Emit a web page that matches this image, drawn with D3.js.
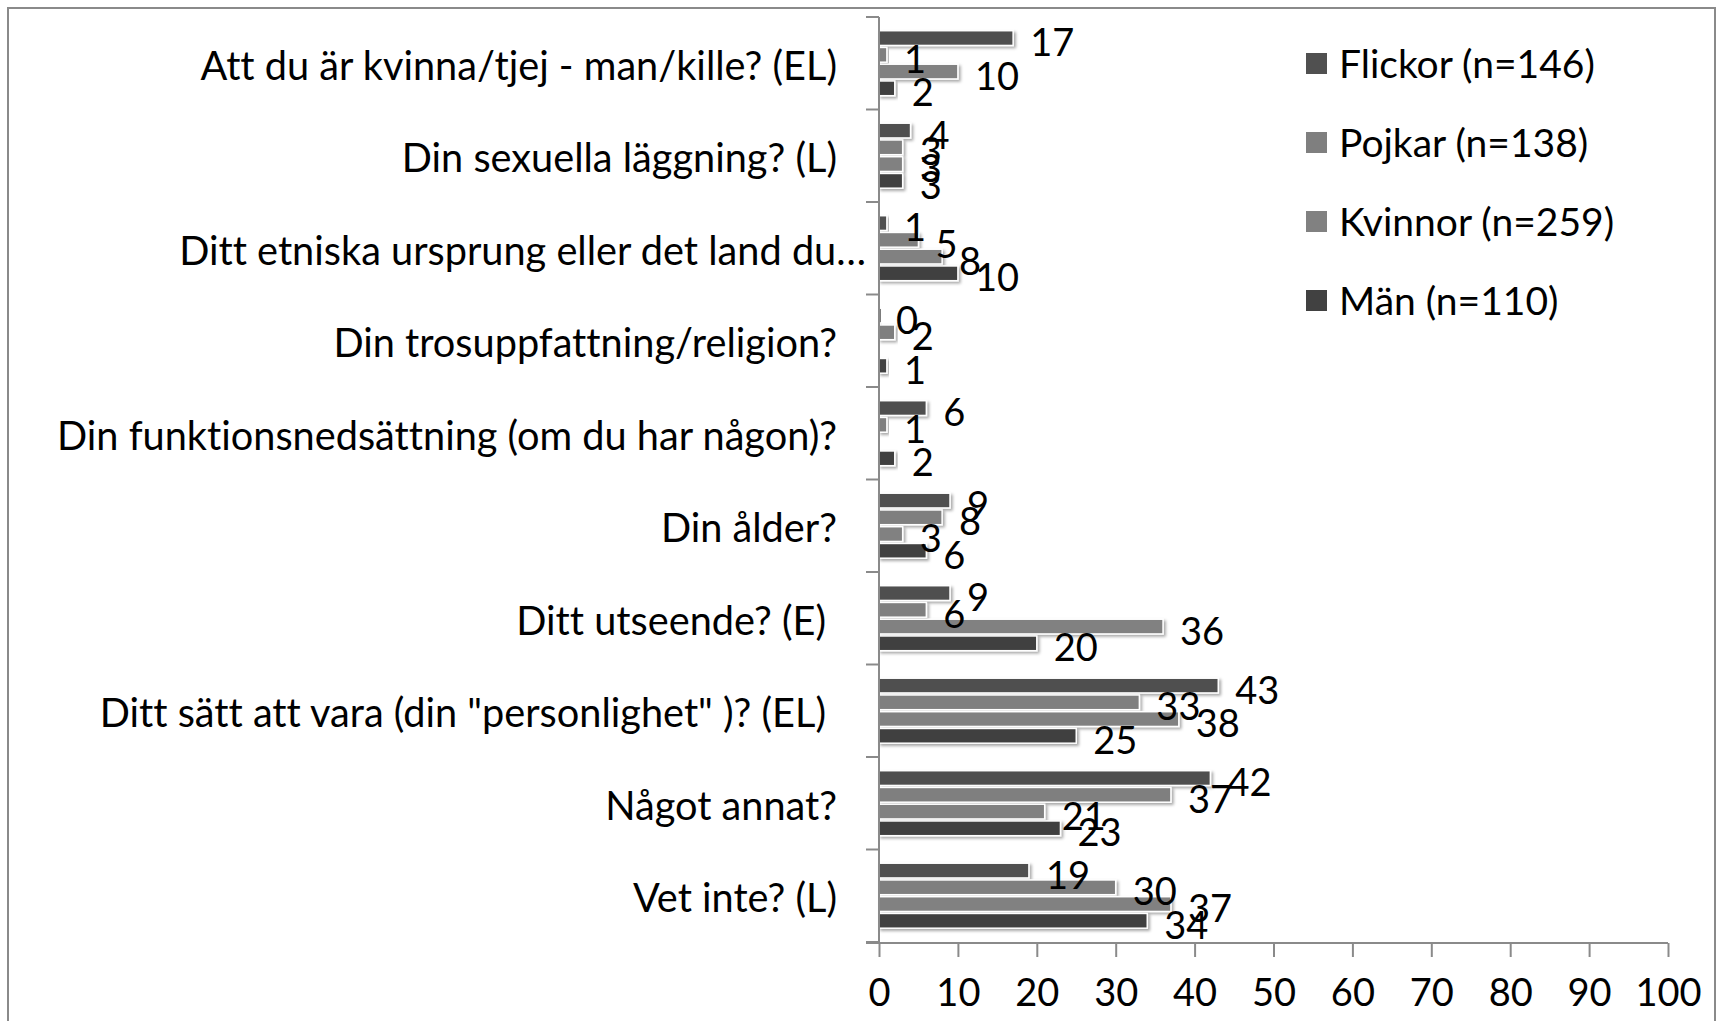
<!DOCTYPE html>
<html lang="sv">
<head>
<meta charset="utf-8" />
<style>
  body { margin: 0; background: #fff; }
  svg { display: block; font-family: Lato, "Open Sans", sans-serif; font-variant-ligatures: none; }
  .axis path, .axis line { stroke: #8a8a8a; stroke-width: 2px; }
  .axis text { fill: #000; }
</style>
</head>
<body>
<svg width="1721" height="1021"></svg>
<script src="https://d3js.org/d3.v7.min.js"></script>
<script>
var categories = [
  "Att du är kvinna/tjej - man/kille? (EL)",
  "Din sexuella läggning? (L)",
  "Ditt etniska ursprung eller det land du…",
  "Din trosuppfattning/religion?",
  "Din funktionsnedsättning (om du har någon)?",
  "Din ålder?",
  "Ditt utseende? (E)",
  "Ditt sätt att vara (din \"personlighet\" )? (EL)",
  "Något annat?",
  "Vet inte? (L)"
];

var seriesNames = ["Flickor (n=146)", "Pojkar (n=138)", "Kvinnor (n=259)", "Män (n=110)"];

// null = no bar shown
var flickor = [17, 4, 1, 0, 6, 9, 9, 43, 42, 19];
var pojkar  = [1, 3, 5, 2, 1, 8, 6, 33, 37, 30];
var kvinnor = [10, 3, 8, null, null, 3, 36, 38, 21, 37];
var man     = [2, 3, 10, 1, 2, 6, 20, 25, 23, 34];

var xTicks = [0, 10, 20, 30, 40, 50, 60, 70, 80, 90, 100];
var colors = ["#505050", "#7f7f7f", "#818181", "#414141"];

var series = [flickor, pojkar, kvinnor, man];

var svg = d3.select("svg");

// drop shadow for bars
var defs = svg.append("defs");
var f = defs.append("filter").attr("id", "shadow")
  .attr("x", "-10%").attr("y", "-30%").attr("width", "130%").attr("height", "180%");
f.append("feDropShadow").attr("dx", 2).attr("dy", 2).attr("stdDeviation", 1.5)
  .attr("flood-color", "#000").attr("flood-opacity", 0.35);

// outer frame
svg.append("rect")
  .attr("x", 8).attr("y", 8).attr("width", 1707).attr("height", 1030)
  .attr("fill", "none").attr("stroke", "#8a8a8a").attr("stroke-width", 2);

var x = d3.scaleLinear().domain([0, 100]).range([879, 1668]);
var y = d3.scaleBand().domain(categories).range([17, 942]);
var inner = d3.scaleBand().domain(d3.range(4)).range([12.7, 79.7]);

// bars
var groups = svg.append("g").selectAll("g")
  .data(categories)
  .join("g")
  .attr("transform", function(d) { return "translate(0," + y(d) + ")"; });

groups.each(function(cat, ci) {
  var g = d3.select(this);
  var rows = series.map(function(s, si) { return { si: si, v: s[ci] }; })
    .filter(function(r) { return r.v !== null; });

  g.selectAll("rect")
    .data(rows)
    .join("rect")
    .attr("x", x(0))
    .attr("y", function(r) { return inner(r.si) + 1; })
    .attr("width", function(r) { return Math.max(x(r.v) - x(0), 2.5); })
    .attr("height", inner.bandwidth() - 2)
    .attr("fill", function(r) { return colors[r.si]; })
    .attr("stroke", "#fff")
    .attr("stroke-width", 1.5)
    .attr("filter", "url(#shadow)");

  g.selectAll("text")
    .data(rows)
    .join("text")
    .attr("x", function(r) { return x(r.v) + 17; })
    .attr("y", function(r) { return inner(r.si) + inner.bandwidth() / 2 + 3; })
    .attr("dominant-baseline", "central")
    .attr("font-size", 38)
    .text(function(r) { return r.v; });
});

// y axis
var yAxis = svg.append("g")
  .attr("class", "axis")
  .attr("transform", "translate(" + x(0) + ",0)")
  .call(d3.axisLeft(y).tickSize(0).tickPadding(0).tickFormat(""));
yAxis.selectAll(".tick").remove();
yAxis.select(".domain").attr("d", "M0,17V942");
yAxis.selectAll("line.sep")
  .data(d3.range(categories.length + 1))
  .join("line")
  .attr("class", "sep")
  .attr("x1", -13).attr("x2", 0)
  .attr("y1", function(i) { return 17 + i * y.step(); })
  .attr("y2", function(i) { return 17 + i * y.step(); });

// category labels (the truncated one runs up to the axis, trailing spaces pull two in)
function labelRight(d, i) {
  if (i === 2) return 866;
  if (i === 6 || i === 7) return 826;
  return 837;
}
svg.append("g").selectAll("text")
  .data(categories)
  .join("text")
  .attr("x", labelRight)
  .attr("y", function(d) { return y(d) + y.bandwidth() / 2 + 1; })
  .attr("text-anchor", "end")
  .attr("dominant-baseline", "central")
  .attr("font-size", 39.7)
  .text(function(d) { return d; });

// x axis
var xAxis = svg.append("g")
  .attr("class", "axis")
  .attr("transform", "translate(0,943)")
  .call(d3.axisBottom(x).tickValues(xTicks).tickSize(14).tickSizeOuter(0).tickPadding(22));
xAxis.select(".domain").attr("d", "M866,0H" + x(100));
xAxis.selectAll("text").attr("font-size", 38).attr("font-family", "Lato, sans-serif");

// legend
var legend = svg.append("g").selectAll("g")
  .data(seriesNames)
  .join("g")
  .attr("transform", function(d, i) { return "translate(1306," + (63 + i * 79) + ")"; });
legend.append("rect")
  .attr("x", 0).attr("y", -10).attr("width", 21).attr("height", 21)
  .attr("fill", function(d, i) { return colors[i]; });
legend.append("text")
  .attr("x", 33).attr("y", 0)
  .attr("dominant-baseline", "central")
  .attr("font-size", 39)
  .text(function(d) { return d; });
</script>
</body>
</html>
